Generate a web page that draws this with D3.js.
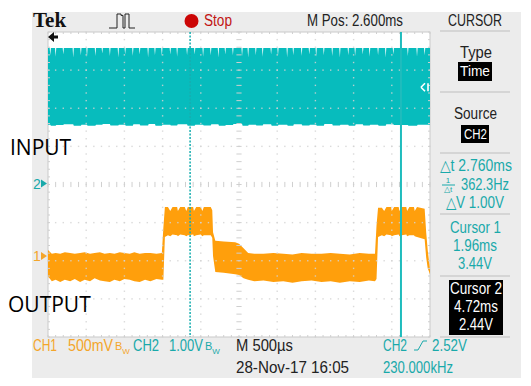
<!DOCTYPE html>
<html>
<head>
<meta charset="utf-8">
<script src="https://cdn.jsdelivr.net/npm/d3@7"></script>
<style>
html, body { margin: 0; padding: 0; background: #fff; }
svg { display: block; }
text { font-family: "Liberation Sans", sans-serif; }
</style>
</head>
<body>
<div id="scope"></div>
<script>
// time in ms (screen runs 0.1 .. 5.1, M Pos 2.600ms in the middle), volts per channel
const timeDomain = [0.1, 5.1];
const divTicks = [0, 1, 2, 3, 4, 5, 6, 7, 8, 9, 10];
const cursorTimes = [1.96, 4.72];
const triggerVolts = 2.52;

// CH2 square wave is too fast to resolve, so only its envelope shows
const ch2NotchTimes = [0.13, 0.20, 0.30, 0.43, 0.53, 0.61, 0.72, 0.81, 0.91, 1.02, 1.11, 1.21, 1.30, 1.41, 1.50, 1.59, 1.70, 1.79, 1.92, 2.02, 2.13, 2.23, 2.33, 2.42, 2.52, 2.64, 2.72, 2.82, 2.91, 3.02, 3.11, 3.23, 3.31, 3.42, 3.52, 3.61, 3.71, 3.82, 3.92, 4.03, 4.12, 4.22, 4.31, 4.42, 4.52, 4.62, 4.81, 4.93, 5.03];
const ch2NotchVolts = [3.36, 3.32, 3.38, 3.30, 3.36, 3.30, 3.34, 3.40, 3.34, 3.30, 3.38, 3.34, 3.38, 3.30, 3.36, 3.34, 3.38, 3.32, 3.36, 3.38, 3.32, 3.36, 3.30, 3.38, 3.36, 3.34, 3.30, 3.36, 3.32, 3.38, 3.34, 3.30, 3.36, 3.34, 3.38, 3.32, 3.36, 3.34, 3.30, 3.36, 3.34, 3.38, 3.32, 3.36, 3.30, 3.38, 3.34, 3.32, 3.36];
const ch2TopVolts = 3.55;
const ch2BottomVolts = [1.54, 1.51, 1.53, 1.55, 1.51, 1.54, 1.51, 1.54, 1.56, 1.52, 1.54, 1.51, 1.55, 1.52, 1.56, 1.51, 1.54, 1.52, 1.55, 1.51, 1.54, 1.52, 1.55, 1.51, 1.53, 1.56, 1.51, 1.54, 1.52, 1.55, 1.51, 1.54, 1.51, 1.55, 1.52, 1.54, 1.51, 1.56, 1.52, 1.54, 1.51, 1.55, 1.52, 1.54, 1.51, 1.55, 1.53, 1.51, 1.54];

// CH1 envelope
const ch1Times = [0.10, 0.12, 0.15, 0.20, 0.26, 0.32, 0.39, 0.45, 0.52, 0.58, 0.65, 0.71, 0.78, 0.84, 0.91, 0.97, 1.04, 1.10, 1.17, 1.23, 1.30, 1.37, 1.44, 1.52, 1.59, 1.61, 1.63, 1.67, 1.70, 1.73, 1.79, 1.80, 1.83, 1.89, 1.91, 1.93, 2.00, 2.01, 2.04, 2.10, 2.12, 2.14, 2.23, 2.25, 2.26, 2.29, 2.40, 2.55, 2.60, 2.66, 2.72, 2.80, 2.92, 3.05, 3.18, 3.30, 3.42, 3.55, 3.68, 3.80, 3.92, 4.05, 4.18, 4.30, 4.38, 4.40, 4.42, 4.47, 4.50, 4.53, 4.59, 4.60, 4.63, 4.69, 4.70, 4.73, 4.79, 4.80, 4.83, 4.89, 4.90, 4.93, 5.03, 5.05, 5.07, 5.10];
const ch1Top = [0.08, 0.06, 0.03, 0.04, 0.03, 0.05, 0.04, 0.03, 0.04, 0.05, 0.03, 0.04, 0.05, 0.03, 0.04, 0.03, 0.05, 0.04, 0.03, 0.05, 0.03, 0.04, 0.04, 0.03, 0.04, 0.37, 0.64, 0.64, 0.59, 0.64, 0.64, 0.59, 0.64, 0.64, 0.59, 0.64, 0.64, 0.59, 0.64, 0.64, 0.59, 0.64, 0.64, 0.60, 0.31, 0.20, 0.19, 0.18, 0.16, 0.10, 0.04, 0.03, 0.03, 0.04, 0.03, 0.02, 0.04, 0.03, 0.03, 0.04, 0.03, 0.02, 0.04, 0.03, 0.03, 0.40, 0.63, 0.63, 0.59, 0.64, 0.64, 0.59, 0.64, 0.64, 0.59, 0.64, 0.64, 0.59, 0.64, 0.64, 0.59, 0.64, 0.62, 0.31, 0.08, -0.18];
const ch1Bottom = [-0.27, -0.29, -0.33, -0.31, -0.34, -0.31, -0.33, -0.30, -0.34, -0.31, -0.33, -0.29, -0.32, -0.33, -0.34, -0.31, -0.33, -0.30, -0.31, -0.33, -0.34, -0.31, -0.33, -0.30, -0.31, -0.31, 0.25, 0.27, 0.26, 0.28, 0.27, 0.26, 0.28, 0.27, 0.26, 0.27, 0.28, 0.26, 0.27, 0.28, 0.26, 0.27, 0.27, 0.24, 0.00, -0.21, -0.22, -0.24, -0.25, -0.29, -0.31, -0.33, -0.32, -0.34, -0.33, -0.35, -0.33, -0.32, -0.34, -0.33, -0.35, -0.33, -0.34, -0.32, -0.33, -0.30, 0.25, 0.27, 0.26, 0.28, 0.27, 0.26, 0.27, 0.28, 0.26, 0.27, 0.28, 0.26, 0.27, 0.27, 0.26, 0.25, 0.22, -0.02, -0.16, -0.24];

const headerLabels = ["Tek", "Stop", "M Pos: 2.600ms", "CURSOR"];
const menuLabels = ["Type", "Time", "Source", "CH2"];
const readoutLabels = ["\u25B3t 2.760ms", "362.3Hz", "\u25B3V 1.00V", "Cursor 1", "1.96ms", "3.44V"];
const cursor2Labels = ["Cursor 2", "4.72ms", "2.44V"];
const pulseLevels = [0, 0, 0, 0, 1, 1, 0.9, 0, 1, 1, 0, 0, 0, 0];

const W = 531, H = 386;
const plot = {left: 48, right: 430, top: 32, bottom: 337};
const teal = "#07bcbd", tealText = "#19a9aa", orange = "#ff9f0c", orangeText = "#f4a52a";

const svg = d3.select("#scope").append("svg").attr("width", W).attr("height", H);

const x = d3.scaleLinear().domain(timeDomain).range([plot.left, plot.right]);
const divX = d3.scaleLinear().domain([0, 10]).range([plot.left, plot.right]);
const divY = d3.scaleLinear().domain([0, 8]).range([plot.top, plot.bottom]);
// CH2 is 1.00V/div, CH1 500mV/div, each from its ground marker
const yCh2 = d3.scaleLinear().domain([0, 1]).range([183.5, 145.3]);
const yCh1 = d3.scaleLinear().domain([0, 0.5]).range([256, 217.8]);

svg.append("rect").attr("x", 32).attr("y", 12).attr("width", 489).attr("height", 366).attr("fill", "#ececec");
svg.append("rect").attr("x", plot.left).attr("y", plot.top)
    .attr("width", plot.right - plot.left).attr("height", plot.bottom - plot.top)
    .attr("fill", "#fff").attr("stroke", "#c9c9c9");

// teal band, notches in the top edge come from the arrays
const ch2Edge = [{t: timeDomain[0], v: ch2TopVolts}];
ch2NotchTimes.forEach((t, i) => {
    ch2Edge.push({t: t - 0.008, v: ch2TopVolts, b: ch2BottomVolts[i]});
    ch2Edge.push({t: t, v: ch2NotchVolts[i], b: ch2BottomVolts[i]});
    ch2Edge.push({t: t + 0.008, v: ch2TopVolts, b: ch2BottomVolts[(i + 1) % ch2BottomVolts.length]});
});
ch2Edge[0].b = ch2BottomVolts[0];
ch2Edge.push({t: timeDomain[1], v: ch2TopVolts, b: ch2BottomVolts[0]});

svg.append("path").datum(ch2Edge)
    .attr("fill", teal)
    .attr("d", d3.area().x(d => x(d.t)).y0(d => yCh2(d.b)).y1(d => yCh2(d.v)));

const ch1Rows = ch1Times.map((t, i) => ({t: t, hi: ch1Top[i], lo: ch1Bottom[i]}));
svg.append("path").datum(ch1Rows)
    .attr("fill", orange)
    .attr("d", d3.area().x(d => x(d.t)).y0(d => yCh1(d.lo)).y1(d => yCh1(d.hi)));

// graticule
const grid = svg.append("g");
const minor = d3.range(0, 50.5);
const minorY = d3.range(0, 40.5);
divTicks.forEach(k => {
    if (k === 0 || k === 5 || k === 10) return;
    minorY.forEach(m => {
        grid.append("rect").attr("x", divX(k) - 0.7).attr("y", divY(m / 5) - 0.7)
            .attr("width", 1.4).attr("height", 1.4).attr("fill", "#d4d4d4").attr("opacity", 0.85);
    });
});
d3.range(1, 8).forEach(k => {
    if (k === 4) return;
    minor.forEach(m => {
        grid.append("rect").attr("x", divX(m / 5) - 0.7).attr("y", divY(k) - 0.7)
            .attr("width", 1.4).attr("height", 1.4).attr("fill", "#d4d4d4").attr("opacity", 0.85);
    });
});
// centre and edge ticks
minor.forEach(m => {
    [[divY(4), 2.6], [plot.top, 2], [plot.bottom, 2]].forEach(([y, h]) => {
        grid.append("line").attr("x1", divX(m / 5)).attr("x2", divX(m / 5))
            .attr("y1", y - (y === plot.top ? 0 : h)).attr("y2", y + (y === plot.bottom ? 0 : h))
            .attr("stroke", "#cfcfcf");
    });
});
minorY.forEach(m => {
    [[divX(5), 2.6], [plot.left, 2], [plot.right, 2]].forEach(([xp, w]) => {
        grid.append("line").attr("y1", divY(m / 5)).attr("y2", divY(m / 5))
            .attr("x1", xp - (xp === plot.left ? 0 : w)).attr("x2", xp + (xp === plot.right ? 0 : w))
            .attr("stroke", "#cfcfcf");
    });
});

// cursors
svg.append("line").attr("x1", x(cursorTimes[0])).attr("x2", x(cursorTimes[0]))
    .attr("y1", plot.top).attr("y2", plot.bottom)
    .attr("stroke", "#16aeb0").attr("stroke-width", 1.5).attr("stroke-dasharray", "2 1.5");
svg.append("line").attr("x1", x(cursorTimes[1])).attr("x2", x(cursorTimes[1]))
    .attr("y1", plot.top).attr("y2", plot.bottom)
    .attr("stroke", "#1fbcbd").attr("stroke-width", 2);

// markers
svg.append("path").attr("d", "M48 37 L54 32 L54 35.5 L58 35.5 L58 38.5 L54 38.5 L54 42 Z").attr("fill", "#111");
const trigY = yCh2(triggerVolts);
svg.append("path").attr("d", `M421 ${trigY} L425 ${trigY - 4} M421 ${trigY} L425 ${trigY + 4} M428 ${trigY - 4} L428 ${trigY + 4}`)
    .attr("stroke", "#fff").attr("stroke-width", 1.6).attr("fill", "none");
svg.append("path").attr("d", `M41 ${yCh2(0) - 4} L47 ${yCh2(0)} L41 ${yCh2(0) + 4} Z`).attr("fill", tealText);
svg.append("path").attr("d", `M41 ${yCh1(0) - 4} L47 ${yCh1(0)} L41 ${yCh1(0) + 4} Z`).attr("fill", orangeText);

// scope font is taller and narrower than anything installed, so squeeze to the width
function label(str, px, py, size, fill, anchor, width) {
    const t = svg.append("text").attr("x", px).attr("y", py)
        .attr("font-size", size).attr("fill", fill).attr("text-anchor", anchor || "start").text(str);
    if (width) t.attr("textLength", width).attr("lengthAdjust", "spacingAndGlyphs");
    return t;
}

label("2", 33, yCh2(0) + 5, 14, tealText);
label("1", 33, yCh1(0) + 5, 14, orangeText);

// header
label(headerLabels[0], 33, 27, 21, "#111").style("font-family", "'Liberation Serif'").attr("font-weight", "bold");
const pulse = d3.scaleLinear().domain([0, pulseLevels.length - 1]).range([109, 135]);
svg.append("path").datum(pulseLevels)
    .attr("d", d3.line().x((d, i) => pulse(i)).y(d => 28 - d * 14).curve(d3.curveStepAfter))
    .attr("fill", "none").attr("stroke", "#222").attr("stroke-width", 1);
svg.append("circle").attr("cx", 191.5).attr("cy", 21).attr("r", 7).attr("fill", "#cc0606");
label(headerLabels[1], 204, 26, 16, "#c21414", "start", 28);
label(headerLabels[2], 307, 26, 16, "#222", "start", 96);
label(headerLabels[3], 448, 26, 16, "#222", "start", 54);

// menu side
[31, 92, 153, 214, 276, 337].forEach(y => {
    svg.append("line").attr("x1", 440).attr("x2", 510).attr("y1", y).attr("y2", y)
        .attr("stroke", "#bdbdbd").attr("stroke-width", 1.2);
});
label(menuLabels[0], 476, 58, 16, "#222", "middle", 32);
svg.append("rect").attr("x", 458).attr("y", 62).attr("width", 34).attr("height", 19).attr("fill", "#000");
label(menuLabels[1], 475, 76, 15, "#fff", "middle", 30);
label(menuLabels[2], 475.5, 119, 16, "#222", "middle", 43);
svg.append("rect").attr("x", 461).attr("y", 125).attr("width", 28).attr("height", 18).attr("fill", "#000");
label(menuLabels[3], 475.5, 139, 15, "#fff", "middle", 23);

label(readoutLabels[0], 476, 171, 16, tealText, "middle", 72);
label("1", 448, 183, 8, tealText, "middle");
svg.append("line").attr("x1", 442).attr("x2", 455).attr("y1", 185).attr("y2", 185).attr("stroke", tealText);
label("\u25B3t", 448, 192, 8, tealText, "middle");
label(readoutLabels[1], 485, 190, 16, tealText, "middle", 48);
label(readoutLabels[2], 475, 208, 16, tealText, "middle", 58);
label(readoutLabels[3], 475.5, 233, 16, tealText, "middle", 51);
label(readoutLabels[4], 475, 251, 16, tealText, "middle", 44);
label(readoutLabels[5], 475, 269, 16, tealText, "middle", 34);

svg.append("rect").attr("x", 449).attr("y", 280).attr("width", 54).attr("height", 55).attr("fill", "#000");
[52, 44, 34].forEach((w, i) => label(cursor2Labels[i], 476, 294 + i * 18, 16, "#fff", "middle", w));

// footer, bandwidth mark is one text with a lowered W
const bw = (px, fill) => {
    const t = label("B", px, 350, 11, fill);
    t.append("tspan").attr("dy", 4).attr("font-size", 8).text("W");
};
label("CH1", 33, 351, 16, orangeText, "start", 24);
label("500mV", 68, 351, 16, orangeText, "start", 45);
bw(115, orangeText);
label("CH2", 133, 351, 16, tealText, "start", 26);
label("1.00V", 169, 351, 16, tealText, "start", 34);
bw(205, tealText);
label("M 500\u00B5s", 236, 351, 16, "#222", "start", 57);
label("28-Nov-17 16:05", 236, 373, 16, "#222", "start", 113);
label("CH2", 383, 351, 16, tealText, "start", 24);
svg.append("path").attr("d", "M414 350 L418 350 L423 341 L427 341").attr("fill", "none").attr("stroke", tealText);
label("2.52V", 432, 351, 16, tealText, "start", 35);
label("230.000kHz", 383, 373, 16, tealText, "start", 70);

// annotations pasted on top of the screenshot
label("INPUT", 10, 155, 21, "#000").style("font-family", "'Open Sans'");
label("OUTPUT", 8, 312, 21, "#000").style("font-family", "'Open Sans'");
</script>
</body>
</html>
